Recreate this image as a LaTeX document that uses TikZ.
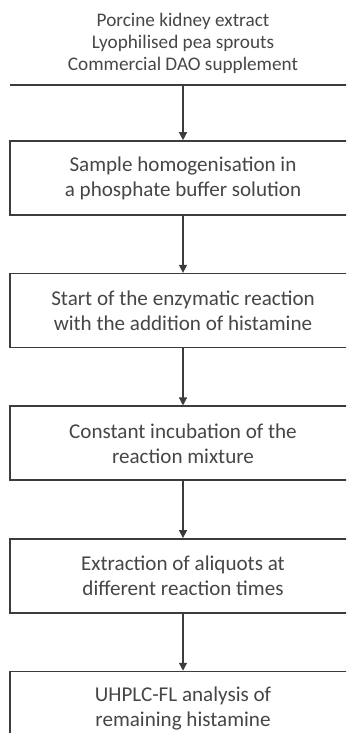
\documentclass[tikz,border=0pt]{standalone}
\usepackage{fontspec}
\setmainfont{Carlito}
\usetikzlibrary{arrows.meta,positioning}
\definecolor{cline}{RGB}{60,60,60}
\definecolor{ctext}{RGB}{70,70,70}

\begin{document}
\begin{tikzpicture}[
    stepbox/.style={draw=cline, line width=1.4pt, minimum width=10.38cm, minimum height=2.22cm,
      inner sep=0pt, align=center, text=ctext, font=\fontsize{18}{21.3}\selectfont},
    flow/.style={-{Triangle[length=2.4mm,width=2.4mm]}, cline, line width=1.1pt}]
    \useasboundingbox (0,0) rectangle (10.38,-21.99);
    \clip (0,0) rectangle (10.38,-21.99);
    % sources
    \node[align=center, text=ctext, font=\fontsize{16.4}{18.6}\selectfont] (src) at (5.49,-1.3)
      {Porcine kidney extract\\Lyophilised pea sprouts\\Commercial DAO supplement};
    \coordinate (barL) at (0.3,-2.55);
    \coordinate (barR) at (10.9,-2.55);
    \coordinate (bar) at (5.49,-2.55);
    \draw[cline, line width=1.4pt] (barL) -- (barR);
    % steps
    \node[stepbox] (s1) at (5.49,-5.34) {Sample homogenisation in\\a phosphate buffer solution};
    \node[stepbox, below=1.71cm of s1] (s2) {Start of the enzymatic reaction\\with the addition of histamine};
    \node[stepbox, below=1.71cm of s2] (s3) {Constant incubation of the\\reaction mixture};
    \node[stepbox, below=1.71cm of s3] (s4) {Extraction of aliquots at\\different reaction times};
    \node[stepbox, below=1.71cm of s4] (s5) {UHPLC-FL analysis of\\remaining histamine};
    % arrows
    \draw[flow] (bar) -- (s1);
    \foreach \a/\b in {s1/s2,s2/s3,s3/s4,s4/s5}
      \draw[flow] (\a) -- (\b);
\end{tikzpicture}
\end{document}
